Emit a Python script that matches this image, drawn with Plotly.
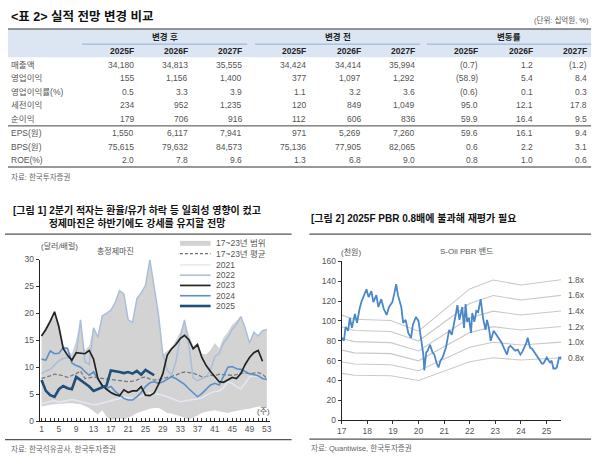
import plotly.graph_objects as go

W, H = 600, 473
FONT = "Liberation Sans, Noto Sans CJK KR, sans-serif"
TXT = "#4d4d4d"

# ---------------- Table data ----------------
row_labels = ["매출액", "영업이익", "영업이익률(%)", "세전이익", "순이익", "EPS(원)", "BPS(원)", "ROE(%)"]
col_years = ["2025F", "2026F", "2027F"]
groups = ["변경 후", "변경 전", "변동률"]
after_vals = [[34180, 34813, 35555], [155, 1156, 1400], [0.5, 3.3, 3.9], [234, 952, 1235],
              [179, 706, 916], [1550, 6117, 7941], [75615, 79632, 84573], [2.0, 7.8, 9.6]]
before_vals = [[34424, 34414, 35994], [377, 1097, 1292], [1.1, 3.2, 3.6], [120, 849, 1049],
               [112, 606, 836], [971, 5269, 7260], [75136, 77905, 82065], [1.3, 6.8, 9.0]]
change_vals = [[-0.7, 1.2, -1.2], [-58.9, 5.4, 8.4], [-0.6, 0.1, 0.3], [95.0, 12.1, 17.8],
               [59.9, 16.4, 9.5], [59.6, 16.1, 9.4], [0.6, 2.2, 3.1], [0.8, 1.0, 0.6]]
pct_rows = {2, 7}

# ---------------- Chart 1 data (weekly refining margin) ----------------
weeks = list(range(1, 54))
band_low = [2.7, 2.9, 3.0, 3.1, 3.2, 3.3, 3.3, 3.3, 3.2, 3.1, 2.8, 2.4, 1.8, 1.2, 2.0, 0.8, 0.2, 0.3, 0.5, 0.3,
            0.6, 1.0, 1.5, 1.8, 2.1, 2.3, 2.4, 2.4, 2.0, 1.5, 1.4, 1.2, 0.9, 0.6, 0.3, 0.6, 1.0, 1.5, 1.7, 1.9,
            2.0, 1.8, 1.6, 1.5, 1.7, 1.9, 2.0, 2.2, 2.3, 2.5, 2.7, 2.6, 2.5]
band_high = [16.0, 17.6, 19.0, 20.3, 18.2, 14.2, 13.0, 12.5, 15.0, 18.8, 13.1, 14.0, 17.3, 16.0, 19.5, 20.0,
             20.6, 22.0, 24.2, 23.6, 18.8, 18.3, 22.7, 23.8, 25.2, 30.0, 25.2, 19.7, 12.4, 13.0, 13.6, 15.0,
             16.5, 18.8, 16.0, 14.0, 14.5, 12.5, 12.4, 13.2, 14.5, 13.5, 15.5, 16.5, 17.9, 18.6, 19.4, 17.3,
             14.5, 16.5, 15.8, 16.8, 17.0]
avg_17_23 = [7.9, 8.1, 8.4, 8.7, 8.6, 8.4, 8.1, 8.4, 8.8, 9.3, 7.9, 8.0, 8.2, 8.0, 7.9, 7.8, 7.7, 7.6, 7.4, 7.3,
             7.3, 7.4, 7.6, 8.0, 8.2, 7.8, 7.6, 7.7, 7.9, 8.1, 8.3, 8.5, 8.9, 9.1, 9.0, 8.9, 8.6, 8.2, 8.3, 8.5,
             8.4, 8.7, 8.6, 8.5, 8.5, 8.6, 8.9, 8.9, 8.8, 8.9, 9.0, 8.7, 7.9]
y2021 = [3.2, 3.4, 3.6, 3.8, 3.5, 3.7, 3.8, 4.0, 3.8, 3.6, 3.5, 3.2, 3.0, 3.1, 3.3, 3.5, 3.8, 4.0, 4.2, 4.4,
         4.3, 4.1, 4.3, 4.6, 5.0, 5.2, 5.1, 5.0, 4.8, 4.5, 4.2, 3.8, 3.6, 3.7, 3.9, 4.0, 4.1, 4.3, 4.8, 5.2,
         5.5, 5.6, 6.2, 7.3, 7.0, 6.4, 6.0, 7.0, 8.2, 8.4, 8.3, 8.0, None]
y2022 = [8.8, 9.3, 9.6, 10.4, 11.2, 11.6, 11.8, 11.5, 12.5, 18.8, 11.0, 10.5, 17.3, 15.5, 19.5, 20.0, 20.6,
         22.0, 24.2, 23.6, 18.8, 18.3, 22.7, 23.8, 25.2, 30.0, 25.2, 19.7, 12.4, 9.5, 8.5, 11.0, 15.5, 18.8,
         14.0, 8.0, 7.5, 7.8, 8.2, 9.5, 12.0, 12.5, 14.5, 15.5, 17.0, 18.0, 19.4, 17.3, 14.5, 16.5, 15.8,
         16.8, 17.0]
y2023 = [15.8, 17.0, 18.5, 20.3, 17.5, 13.5, 12.2, 11.3, 12.7, 12.6, 12.5, 13.1, 11.5, 7.9, 6.6, 5.9, 5.3,
         4.9, 4.7, 5.8, 5.3, 5.6, 5.6, 6.4, 4.8, 4.7, 5.2, 6.8, 8.8, 12.2, 13.4, 14.2, 15.3, 15.9, 15.1,
         13.4, 14.2, 11.8, 10.3, 9.2, 8.3, 7.3, 7.2, 7.6, 8.1, 7.9, 8.8, 10.5, 11.8, 12.7, 13.1, 11.1, None]
y2024 = [11.5, 11.3, 13.0, 12.5, 12.6, 13.6, 13.5, 10.8, 10.3, 10.0, 9.2, 8.5, 9.1, 7.8, 6.5, 6.1, 6.4, 5.5,
         4.8, 4.2, 3.9, 3.9, 4.5, 5.3, 6.4, 7.1, 7.3, 7.0, 7.3, 7.7, 8.2, 7.9, 7.4, 6.8, 6.0, 5.2, 4.5, 5.1,
         5.9, 6.7, 7.0, 6.7, 8.3, 10.0, 10.1, 9.7, 9.6, 9.2, 8.8, 8.6, 8.4, 7.9, 7.7]
y2025 = [7.6, 5.6, 4.8, 4.5, 5.9, 6.5, 6.1, 5.9, 8.2, 7.6, 7.0, 6.4, 5.6, 5.9, 6.3, 6.6, 9.4, 9.3, 9.1, 8.9,
         9.1, 8.8, 9.3, 8.6, 9.5, 9.0, 8.5]
week_ticks = [str(w) if (w - 1) % 4 == 0 else "" for w in weeks]

# ---------------- Chart 2 data (S-Oil PBR band, thousand KRW) ----------------
price_dates = ["2017-01-02", "2017-02-01", "2017-02-25", "2017-04-01", "2017-04-27", "2017-05-26", "2017-07-08",
               "2017-08-07", "2017-09-12", "2017-10-12", "2017-11-17", "2017-12-20", "2018-01-19", "2018-02-28",
               "2018-03-28", "2018-05-10", "2018-06-08", "2018-07-19", "2018-08-24", "2018-10-04", "2018-11-06",
               "2018-12-24", "2019-01-22", "2019-02-17", "2019-03-14", "2019-05-01", "2019-05-27", "2019-07-02",
               "2019-08-08", "2019-09-17", "2019-10-12", "2019-11-25", "2020-01-01", "2020-02-06", "2020-03-10",
               "2020-03-24", "2020-04-20", "2020-05-12", "2020-06-13", "2020-07-20", "2020-08-14", "2020-09-13",
               "2020-10-12", "2020-11-10", "2020-12-09", "2021-01-26", "2021-02-21", "2021-03-14", "2021-04-20",
               "2021-05-22", "2021-06-17", "2021-07-09", "2021-08-07", "2021-09-16", "2021-10-12", "2021-11-03",
               "2021-11-25", "2021-12-20", "2022-01-19", "2022-02-06", "2022-03-07", "2022-04-05", "2022-05-01",
               "2022-06-06", "2022-07-09", "2022-08-14", "2022-09-05", "2022-10-01", "2022-10-27", "2022-12-09",
               "2023-01-19", "2023-02-21", "2023-04-01", "2023-05-01", "2023-06-17", "2023-07-09", "2023-08-04",
               "2023-09-13", "2023-10-12", "2023-11-17", "2023-12-24", "2024-01-22", "2024-02-20", "2024-03-20",
               "2024-04-07", "2024-05-10", "2024-06-08", "2024-06-27", "2024-07-23", "2024-08-14", "2024-09-13",
               "2024-10-01", "2024-10-27", "2024-11-17", "2024-12-13", "2025-01-04", "2025-01-30", "2025-02-21",
               "2025-03-14", "2025-04-08", "2025-05-08", "2025-05-27", "2025-06-28", "2025-07-20", "2025-07-25"]
price_vals = [83, 80, 94, 90, 103, 93, 107, 98, 112, 120, 126, 132, 124, 130, 119, 126, 114, 122, 112, 106, 114,
              119, 128, 137, 126, 114, 98, 101, 88, 83, 96, 104, 100, 80, 66, 50, 68, 70, 76, 68, 66, 58, 53, 60,
              63, 73, 83, 91, 86, 96, 107, 116, 101, 114, 93, 117, 99, 103, 88, 108, 99, 110, 109, 122, 103, 91,
              101, 93, 80, 90, 86, 83, 78, 73, 66, 73, 75, 72, 70, 71, 66, 69, 73, 78, 83, 73, 72, 70, 67, 65, 62,
              60, 57, 57, 60, 63, 60, 58, 60, 52, 52, 53, 63, 62, 64]
bps_dates = ["2017-01-02", "2017-07-01", "2018-12-01", "2020-01-01", "2022-01-01", "2022-12-01", "2024-01-01",
             "2025-07-25"]
bps_vals = [58.8, 56.5, 55.8, 49.8, 73.5, 78.5, 75.7, 78.6]
pbr_multiples = [0.8, 1.0, 1.2, 1.4, 1.6, 1.8]
year_ticks = ["%d-01-01" % y for y in range(2017, 2026)]
year_labels = ["%02d" % (y % 100) for y in range(2017, 2026)]


def X(px):
    return px / W


def Y(py):
    return 1 - py / H


fig = go.Figure()

# ---- Chart 1 traces ----
fig.add_trace(go.Scatter(x=weeks, y=band_low, mode="lines", line=dict(width=0), showlegend=False,
                         hoverinfo="skip", xaxis="x", yaxis="y"))
fig.add_trace(go.Scatter(x=weeks, y=band_high, mode="lines", line=dict(width=0), fill="tonexty",
                         fillcolor="#d3d3d3", showlegend=False, xaxis="x", yaxis="y"))
series1 = [
    (avg_17_23, "#7a7a7a", 1.3, "4px,2px"),
    (y2021, "#e2e9f3", 1.5, "solid"),
    (y2022, "#a9bedb", 1.5, "solid"),
    (y2024, "#5b8fcb", 1.6, "solid"),
    (y2023, "#232323", 1.7, "solid"),
    (y2025, "#1f4e79", 2.6, "solid"),
]
for ys, col, wd, dash in series1:
    fig.add_trace(go.Scatter(x=weeks[:len(ys)], y=ys, mode="lines", line=dict(color=col, width=wd, dash=dash),
                             showlegend=False, xaxis="x", yaxis="y"))

# ---- Chart 2 traces ----
for m in pbr_multiples:
    fig.add_trace(go.Scatter(x=bps_dates, y=[m * b for b in bps_vals], mode="lines",
                             line=dict(color="#c9c9c9", width=1.1), showlegend=False, xaxis="x2", yaxis="y2"))
fig.add_trace(go.Scatter(x=price_dates, y=price_vals, mode="lines", line=dict(color="#4a87cb", width=1.8),
                         showlegend=False, xaxis="x2", yaxis="y2"))

shapes = []
annotations = []


def text(x, y, s, size=8.5, color=TXT, anchor="left", bold=False, yanchor="middle"):
    if bold:
        s = "<b>%s</b>" % s
    annotations.append(dict(x=X(x), y=Y(y), xref="paper", yref="paper", text=s, showarrow=False,
                            xanchor=anchor, yanchor=yanchor, font=dict(size=size, color=color, family=FONT)))


def hline(x0, x1, y, color="#333", width=1.0, dash="solid"):
    shapes.append(dict(type="line", xref="paper", yref="paper", x0=X(x0), x1=X(x1), y0=Y(y), y1=Y(y),
                       line=dict(color=color, width=width, dash=dash)))


# ---- Table ----
text(4, 12, "&lt;표 2&gt; 실적 전망 변경 비교", size=12.5, color="#111", bold=True)
text(593, 15, "(단위: 십억원, %)", size=7.5, color="#555", anchor="right")
shapes.append(dict(type="rect", xref="paper", yref="paper", x0=X(3), x1=X(593), y0=Y(53.5), y1=Y(24.5),
                   fillcolor="#dce6f2", line=dict(width=0), layer="below"))
hline(3, 593, 24.5, "#333", 1.2)
group_spans = [(78, 245), (253, 420), (427, 593)]
col_right = [[131.5, 186, 241], [306, 361, 416], [480, 535, 590]]
for g, (a, b) in zip(groups, group_spans):
    text((a + b) / 2, 33, g, size=8.5, color="#222", anchor="center", bold=True)
    hline(a, b, 40, "#8eaedb", 1.0)
for cols in col_right:
    for cx, yr in zip(cols, col_years):
        text(cx + 1, 47, yr, size=8.5, color="#222", anchor="right", bold=True)

row_y = [61, 75, 89, 102.5, 116.5, 131, 145, 158.5]


def fmt(v, pct):
    if pct:
        s = "%.1f" % abs(v)
        return "(%s)" % s if v < 0 else s
    return "{:,}".format(v)


for i, lab in enumerate(row_labels):
    y = row_y[i]
    text(4, y, lab, size=8.5, color="#555")
    pct = i in pct_rows
    for gi, data in enumerate([after_vals, before_vals, change_vals]):
        for j in range(3):
            text(col_right[gi][j] + 1, y, fmt(data[i][j], pct or gi == 2), size=8.5, color="#555", anchor="right")
hline(3, 593, 123.5, "#444", 1.0)
hline(3, 593, 165.5, "#333", 1.2)
text(4, 176, "자료: 한국투자증권", size=7.5, color="#666")

# ---- Chart 1 decorations ----
text(134, 216.5, "[그림 1] 2분기 적자는 환율/유가 하락 등 일회성 영향이 컸고<br>정제마진은 하반기에도 강세를 유지할 전망",
     size=10, color="#111", anchor="center", bold=True)
hline(0, 290, 234, "#555", 1.2)
hline(0, 290, 444, "#555", 1.2)
text(4, 453.5, "자료: 한국석유공사, 한국투자증권", size=7.5, color="#666")
text(55, 247, "(달러/배럴)", size=8, color="#555", anchor="center")
text(112, 251, "총정제마진", size=8, color="#555", anchor="center")
text(262, 415, "(주)", size=8, color="#555", anchor="center")

legend_items = [
    ("17~23년 범위", "#d3d3d3", 5, "solid", 243.5),
    ("17~23년 평균", "#6e6e6e", 1.1, "3px,2px", 254),
    ("2021", "#e2e9f3", 1.5, "solid", 265.5),
    ("2022", "#a9bedb", 1.5, "solid", 276),
    ("2023", "#232323", 1.7, "solid", 286.5),
    ("2024", "#5b8fcb", 1.6, "solid", 297),
    ("2025", "#1f4e79", 2.6, "solid", 307.5),
]
for lab, col, wd, dash, y in legend_items:
    hline(177, 208, y, col, wd, dash)
    text(211, y, lab, size=8.5, color="#555")

# ---- Chart 2 decorations ----
text(308, 218, "[그림 2] 2025F PBR 0.8배에 불과해 재평가 필요", size=10, color="#111", bold=True)
hline(308, 593, 234, "#555", 1.2)
hline(308, 593, 443.5, "#555", 1.2)
text(308, 453, "자료: Quantiwise, 한국투자증권", size=7.5, color="#666")
text(350, 252, "(천원)", size=8, color="#555", anchor="center")
text(467, 252, "S-Oil PBR 밴드", size=8, color="#555", anchor="center")
for m in pbr_multiples:
    annotations.append(dict(x=bps_dates[-1], y=m * bps_vals[-1], xref="x2", yref="y2", text="%.1fx" % m,
                            showarrow=False, xanchor="left", yanchor="middle", xshift=5,
                            font=dict(size=8.5, color="#555", family=FONT)))

axis_font = dict(size=8.5, color="#555", family=FONT)
fig.update_layout(
    width=W, height=H, margin=dict(l=0, r=0, t=0, b=0),
    paper_bgcolor="white", plot_bgcolor="white", showlegend=False,
    font=dict(family=FONT),
    xaxis=dict(domain=[X(35), X(268)], range=[0.55, 53.7], tickmode="array", tickvals=weeks,
               ticktext=week_ticks, ticks="inside", ticklen=3, tickcolor="#333", showline=True,
               linecolor="#222", linewidth=1, showgrid=False, zeroline=False, tickfont=axis_font, anchor="y"),
    yaxis=dict(domain=[Y(425), Y(260)], range=[0, 30], tickvals=[0, 5, 10, 15, 20, 25, 30], ticks="outside",
               ticklen=3, tickcolor="#333", showline=True, linecolor="#222", linewidth=1, showgrid=False,
               zeroline=False, tickfont=axis_font, anchor="x"),
    xaxis2=dict(domain=[X(340.7), X(563)], type="date", range=["2017-01-01", "2025-08-01"], tickmode="array",
                tickvals=year_ticks, ticktext=year_labels, ticks="outside", ticklen=3, tickcolor="#333",
                showline=True, linecolor="#222", linewidth=1, showgrid=False, zeroline=False,
                tickfont=axis_font, anchor="y2"),
    yaxis2=dict(domain=[Y(424), Y(262)], range=[0, 160], tickvals=list(range(0, 161, 20)), ticks="outside",
                ticklen=3, tickcolor="#333", showline=True, linecolor="#222", linewidth=1, showgrid=False,
                zeroline=False, tickfont=axis_font, anchor="x2"),
    shapes=shapes, annotations=annotations,
)

fig.write_html("out.html", config={"displayModeBar": False},
               post_script="document.body.style.margin='0';document.body.style.overflow='hidden';")
